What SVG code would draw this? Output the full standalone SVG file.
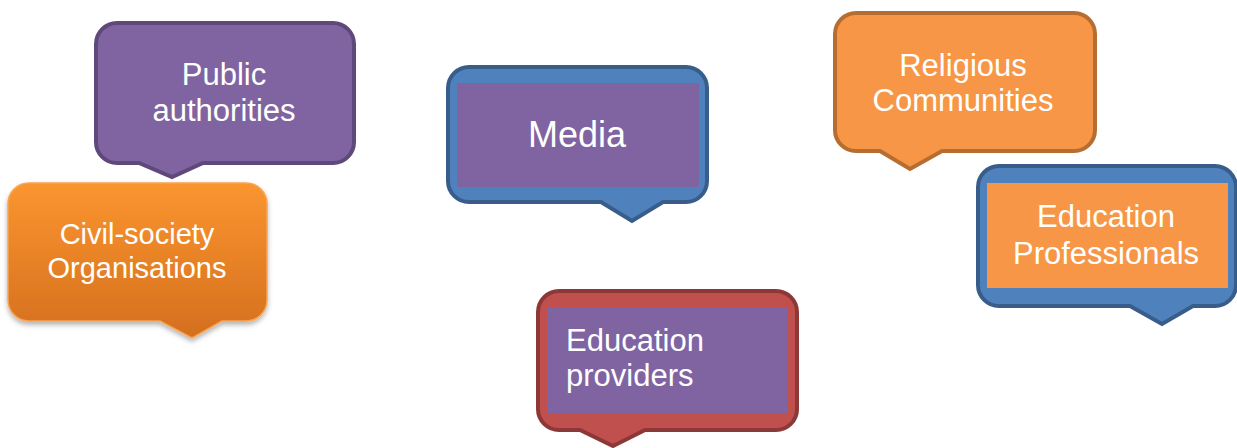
<svg xmlns="http://www.w3.org/2000/svg" width="1237" height="448" viewBox="0 0 1237 448">
<style>
.t{font-family:"Liberation Sans",Arial,sans-serif;fill:#ffffff;font-size:31px}
.c{text-anchor:middle}
.purple{fill:#8064A2}
.blue{fill:#4F81BD;stroke:#385D8A;stroke-width:4}
.orange{fill:#F79646;stroke:#B66D31;stroke-width:4}
.red{fill:#C0504D;stroke:#8C3836;stroke-width:4}
</style>
<defs>
<linearGradient id="og" x1="0" y1="0" x2="0" y2="1">
<stop offset="0" stop-color="#FB9530"/>
<stop offset="1" stop-color="#D46F1E"/>
</linearGradient>
<filter id="sh" x="-10%" y="-10%" width="120%" height="130%">
<feDropShadow dx="0" dy="3" stdDeviation="2.5" flood-color="#000" flood-opacity="0.3"/>
</filter>
</defs>
<g id="public-authorities">
<path class="purple" stroke="#5F497A" stroke-width="4" d="M117,23 H333 A21,21 0 0 1 354,44 V142 A21,21 0 0 1 333,163 H203 L172,177 L139,163 H117 A21,21 0 0 1 96,142 V44 A21,21 0 0 1 117,23 Z"/>
<text class="t c" x="224" y="85">Public</text>
<text class="t c" x="224" y="121">authorities</text>
</g>
<g id="civil-society">
<path fill="url(#og)" stroke="#F8A451" stroke-width="1.5" filter="url(#sh)" d="M29,183 H246 A21,21 0 0 1 267,204 V300 A21,21 0 0 1 246,321 H222 L192,338 L160,321 H29 A21,21 0 0 1 8,300 V204 A21,21 0 0 1 29,183 Z"/>
<text class="t c" x="137" y="244" style="font-size:29px">Civil-society</text>
<text class="t c" x="137" y="278" style="font-size:29px">Organisations</text>
</g>
<g id="media">
<path class="blue" d="M469,67 H686 A21,21 0 0 1 707,88 V181 A21,21 0 0 1 686,202 H663 L632,221 L601,202 H469 A21,21 0 0 1 448,181 V88 A21,21 0 0 1 469,67 Z"/>
<rect class="purple" x="457" y="83" width="242" height="104"/>
<text class="t c" x="577" y="147" style="font-size:36px">Media</text>
</g>
<g id="religious-communities">
<path class="orange" d="M856,13 H1074 A21,21 0 0 1 1095,34 V130 A21,21 0 0 1 1074,151 H942 L910,169 L880,151 H856 A21,21 0 0 1 835,130 V34 A21,21 0 0 1 856,13 Z"/>
<text class="t c" x="963" y="76">Religious</text>
<text class="t c" x="963" y="111">Communities</text>
</g>
<g id="education-professionals">
<path class="blue" d="M999,166 H1215 A21,21 0 0 1 1236,187 V285 A21,21 0 0 1 1215,306 H1193 L1162,324 L1130,306 H999 A21,21 0 0 1 978,285 V187 A21,21 0 0 1 999,166 Z"/>
<rect x="987" y="183" width="241" height="105" fill="#F79646"/>
<text class="t c" x="1106" y="227">Education</text>
<text class="t c" x="1106" y="264">Professionals</text>
</g>
<g id="education-providers">
<path class="red" d="M559,291 H776 A21,21 0 0 1 797,312 V409 A21,21 0 0 1 776,430 H645 L613,446 L580,430 H559 A21,21 0 0 1 538,409 V312 A21,21 0 0 1 559,291 Z"/>
<rect class="purple" x="547" y="308" width="241" height="105"/>
<text class="t" x="566" y="351">Education</text>
<text class="t" x="566" y="386">providers</text>
</g>
<g id="connectors"></g>
</svg>
